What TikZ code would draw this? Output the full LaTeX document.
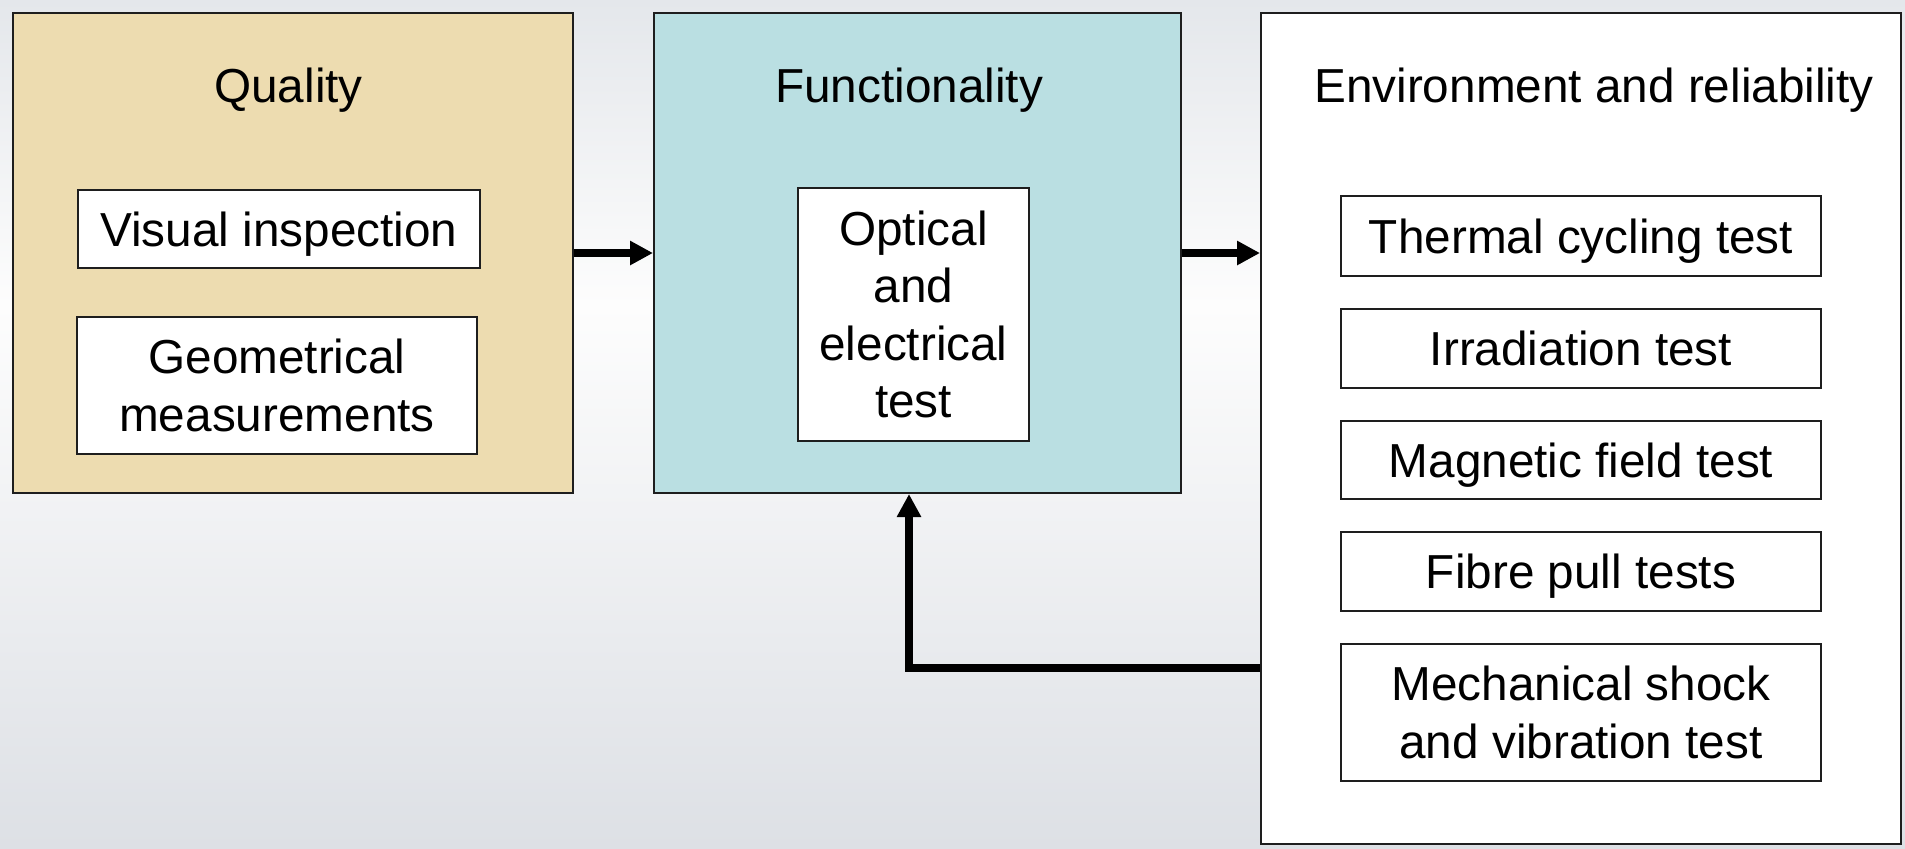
\documentclass[tikz,border=0pt]{standalone}
\usepackage{tikz}
\usepackage{fontspec}
\setmainfont{Liberation Sans}
\usetikzlibrary{arrows.meta}

% soft grey backdrop, lightest a little above the middle
\definecolor{bgtop}{RGB}{228,231,235}
\definecolor{bgmid}{RGB}{253,253,253}
\definecolor{bgbot}{RGB}{221,224,229}
\pgfdeclareverticalshading{backdrop}{100bp}{%
  color(0bp)=(bgbot); color(25bp)=(bgbot); color(57bp)=(bgmid);
  color(75bp)=(bgtop); color(100bp)=(bgtop)}

\definecolor{qualityfill}{RGB}{237,220,176}
\definecolor{funcfill}{RGB}{186,223,226}
\definecolor{edge}{RGB}{30,30,30}

\begin{document}
\begin{tikzpicture}[
  x=0.5pt, y=-0.5pt,
  font=\fontsize{23.85}{28.75}\selectfont,
  stage/.style={draw=edge, line width=1pt, inner sep=0pt, rectangle},
  item/.style={draw=edge, line width=1pt, fill=white, inner sep=0pt,
    align=center},
  oneline/.style={item, text height=17pt, text depth=0pt},
  heading/.style={anchor=base, inner sep=0pt},
  flow/.style={line width=3.7pt, -{Triangle[length=11.5pt,width=11.5pt]}},
]
% backdrop and page size
\shade[shading=backdrop] (0,0) rectangle (1905,848);
\useasboundingbox (0,0) rectangle (1905,848);

% the three stages
\node[stage, fill=qualityfill, minimum width=280pt, minimum height=240pt]
  (quality) at (293,253) {};
\node[stage, fill=funcfill, minimum width=263.5pt, minimum height=240pt]
  (func) at (917.5,253) {};
\node[stage, fill=white, minimum width=320pt, minimum height=415.5pt]
  (env) at (1581,428.5) {};

% stage headings
\node[heading] (qtitle) at (288.5,102) {Quality};
\node[heading] (ftitle) at (909,102) {Functionality};
\node[heading] (etitle) at (1594,102) {Environment and reliability};

% quality checks
\node[oneline, minimum width=201pt, minimum height=39pt] (visual) at (279,229)
  {Visual inspection};
\node[item, minimum width=200pt, minimum height=68.5pt] (geom) at (277,385.5)
  {Geometrical\\measurements};

% functional test
\node[item, minimum width=115.5pt, minimum height=126.5pt] (optel) at (913.5,314.5)
  {Optical\\and\\electrical\\test};

% environment and reliability tests
\node[oneline, minimum width=240pt, minimum height=40pt] (thermal) at (1581,236)
  {Thermal cycling test};
\node[oneline, minimum width=240pt, minimum height=39.5pt] (irrad) at (1581,348.5)
  {Irradiation test};
\node[oneline, minimum width=240pt, minimum height=39pt] (magnet) at (1581,460)
  {Magnetic field test};
\node[oneline, minimum width=240pt, minimum height=39.5pt] (fibre) at (1581,571.5)
  {Fibre pull tests};
\node[item, minimum width=240pt, minimum height=68.5pt] (mech) at (1581,712.5)
  {Mechanical shock\\and vibration test};

% flow between stages
\draw[flow] (quality.east) -- (func.west);
\draw[flow] (func.east) -- (func.east -| env.west);

% feedback from the reliability stage to the functional test
\coordinate (fbturn) at (909,668);
\draw[flow] (fbturn -| env.west) -- (fbturn) -- (fbturn |- func.south);
\end{tikzpicture}
\end{document}
